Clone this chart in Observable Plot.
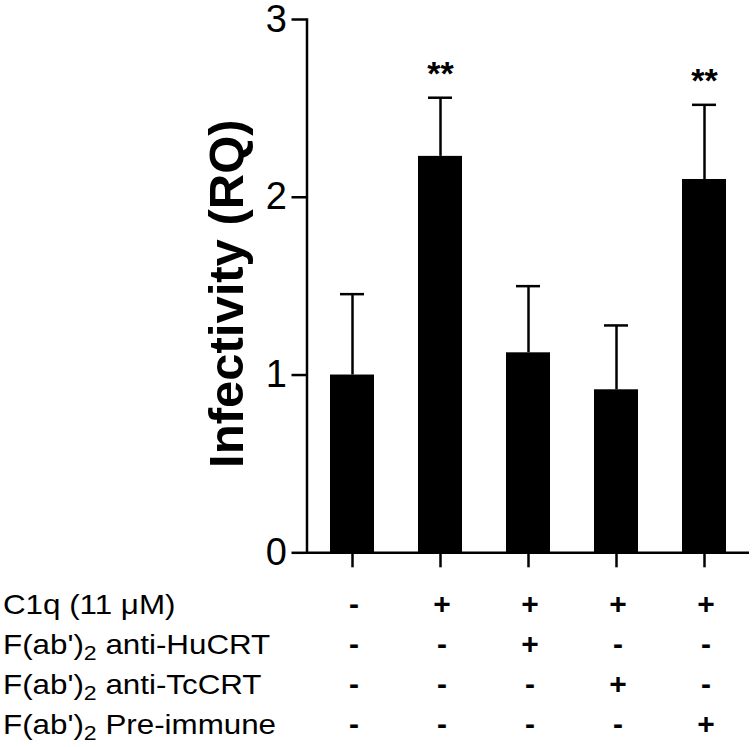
<!DOCTYPE html>
<html>
<head>
<meta charset="utf-8">
<script src="https://cdn.jsdelivr.net/npm/d3@7"></script>
<script src="https://cdn.jsdelivr.net/npm/@observablehq/plot@0.6"></script>
<style>
  html, body { margin: 0; padding: 0; background: white; }
  #chart svg { display: block; }
</style>
</head>
<body>
<div id="chart"></div>
<script>
// ---- data ----
const groups = ["Control", "C1q", "C1q + anti-HuCRT", "C1q + anti-TcCRT", "C1q + Pre-immune"];
const means = [1.0, 2.23, 1.125, 0.917, 2.1];
const errors = [0.455, 0.33, 0.375, 0.362, 0.42];
const significance = ["", "**", "", "", "**"];
const yTicks = [0, 1, 2, 3];

const rowLabels = ["C1q (11 \u03BCM)", "F(ab')2 anti-HuCRT", "F(ab')2 anti-TcCRT", "F(ab')2 Pre-immune"];
const rowC1q   = ["-", "+", "+", "+", "+"];
const rowHuCRT = ["-", "-", "+", "-", "-"];
const rowTcCRT = ["-", "-", "-", "+", "-"];
const rowPre   = ["-", "-", "-", "-", "+"];

const data = groups.map((g, i) => ({group: g, mean: means[i], err: errors[i], sig: significance[i]}));
const rows = [rowC1q, rowHuCRT, rowTcCRT, rowPre];
const tableCells = rows.flatMap((r, j) => r.map((s, i) => ({row: rowLabels[j], group: groups[i], sym: s})));

const font = "'Liberation Sans', Arial, Helvetica, sans-serif";
const W = 754;
const xScale = {type: "band", domain: groups, paddingInner: 0.5, paddingOuter: 0.25};

const chart = Plot.plot({
  width: W,
  height: 575,
  marginLeft: 306.5,
  marginRight: 5,
  marginTop: 19,
  marginBottom: 22.7,
  style: {fontFamily: font, background: "white", color: "black", overflow: "visible"},
  x: {...xScale, axis: null},
  y: {domain: [0, 3], axis: null},
  marks: [
    Plot.ruleX(data, {x: "group", y1: "mean", y2: d => d.mean + d.err, stroke: "black", strokeWidth: 2.5}),
    Plot.tickY(data, {x: "group", y: d => d.mean + d.err, stroke: "black", strokeWidth: 2.5, insetLeft: 10, insetRight: 10}),
    Plot.barY(data, {x: "group", y: "mean", fill: "black"}),
    Plot.text(data, {x: "group", y: d => d.mean + d.err, text: "sig", dy: -24, fontSize: 34, fontWeight: "bold", fill: "black"}),
    Plot.frame({anchor: "left", stroke: "black", strokeWidth: 2.5}),
    Plot.ruleY([0], {stroke: "black", strokeWidth: 2.5}),
    Plot.axisY({ticks: yTicks, tickSize: 15, tickPadding: 5, fontSize: 38, strokeWidth: 2.5, label: null, tickFormat: d3.format("d")}),
    Plot.axisX({tickSize: 15, strokeWidth: 2.5, label: null, tickFormat: () => ""}),
    Plot.text(["Infectivity (RQ)"], {frameAnchor: "left", rotate: -90, dx: -80, dy: 7.5, fontSize: 49, fontWeight: "bold", textAnchor: "middle", lineAnchor: "middle", fill: "black"})
  ]
});

const table = Plot.plot({
  width: W,
  height: 172,
  marginLeft: 306.5,
  marginRight: 5,
  marginTop: 0,
  marginBottom: 0,
  style: {fontFamily: font, background: "white", color: "black", overflow: "visible"},
  x: {...xScale, axis: null},
  y: {type: "point", domain: rowLabels, range: [28.4, 149.4], padding: 0, axis: null},
  marks: [
    Plot.text(tableCells, {x: "group", y: "row", text: "sym", dx: 1.5, fontSize: 30, fontWeight: "bold", fill: "black", lineAnchor: "middle"})
  ]
});

// row labels with subscripts, positioned from the table's y scale
const ys = table.scale("y");
const fs = 28.5;
const lab = d3.select(table).append("g")
  .attr("transform", "translate(3,0) scale(1.1,1)")
  .attr("text-anchor", "start");
rowLabels.forEach(label => {
  const baseline = ys.apply(label) + 0.32 * 30;
  const t = lab.append("text")
    .attr("x", 0).attr("y", baseline)
    .attr("text-anchor", "start")
    .attr("font-size", fs).attr("fill", "black").attr("font-family", font);
  const m = label.match(/^(F\(ab'\))2(.*)$/);
  if (m) {
    t.append("tspan").text(m[1]);
    t.append("tspan").attr("font-size", 21).attr("dy", 6).text("2");
    t.append("tspan").attr("dy", -6).text(m[2]);
  } else {
    t.text(label);
  }
});

document.getElementById("chart").append(chart, table);
</script>
</body>
</html>
